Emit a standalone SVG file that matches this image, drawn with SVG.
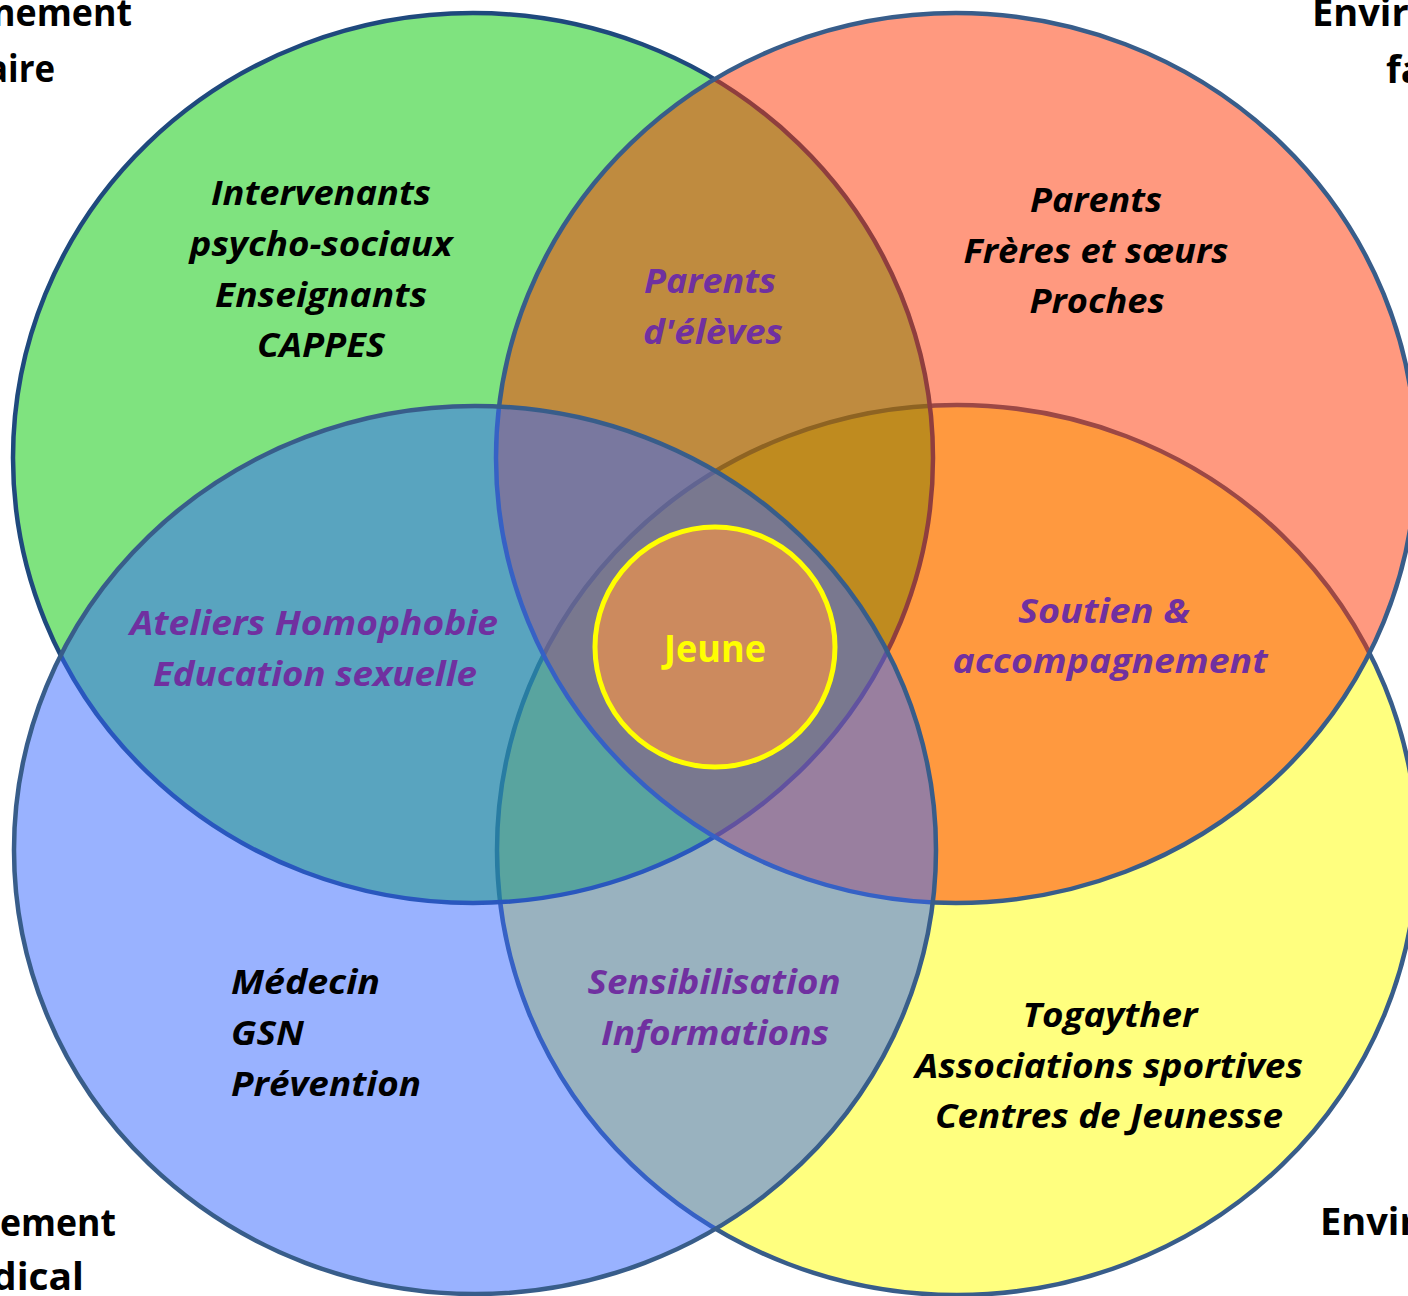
<svg xmlns="http://www.w3.org/2000/svg" width="1408" height="1296" viewBox="0 0 1408 1296">
<style>
.c { stroke-width: 4.5; fill-opacity: 0.5; }
.t { font-family: "Open Sans", "Liberation Sans", sans-serif; font-weight: 700; font-style: italic; font-size: 34px; text-anchor: middle; }
.l { text-anchor: start; }
.blk { fill: #000000; }
.pur { fill: #7030A0; }
.corner { font-family: "Open Sans", "Liberation Sans", sans-serif; font-weight: 700; font-size: 38px; fill: #000000; }
.jeune { font-family: "Open Sans", "Liberation Sans", sans-serif; font-weight: 700; font-size: 37px; fill: #FFFF00; text-anchor: middle; }
</style>
<rect x="0" y="0" width="1408" height="1296" fill="#FFFFFF"/>

<g id="env-yellow">
  <ellipse class="c" cx="957" cy="850" rx="460" ry="445" fill="#FFFF00" stroke="#385D8A"/>
  <text class="t blk" x="1110" y="1027" textLength="175" lengthAdjust="spacingAndGlyphs">Togayther</text>
  <text class="t blk" x="1109" y="1078" textLength="388" lengthAdjust="spacingAndGlyphs">Associations sportives</text>
  <text class="t blk" x="1109" y="1128" textLength="348" lengthAdjust="spacingAndGlyphs">Centres de Jeunesse</text>
</g>

<g id="env-green">
  <ellipse class="c" cx="473" cy="458" rx="460" ry="445" fill="#00C800" stroke="#1F497D"/>
  <text class="t blk" x="321" y="205" textLength="220" lengthAdjust="spacingAndGlyphs">Intervenants</text>
  <text class="t blk" x="321" y="256" textLength="263" lengthAdjust="spacingAndGlyphs">psycho-sociaux</text>
  <text class="t blk" x="321" y="307" textLength="212" lengthAdjust="spacingAndGlyphs">Enseignants</text>
  <text class="t blk" x="321" y="357" textLength="128" lengthAdjust="spacingAndGlyphs">CAPPES</text>
</g>

<g id="env-red">
  <ellipse class="c" cx="956" cy="458" rx="460" ry="445" fill="#FF3300" stroke="#385D8A"/>
  <text class="t blk" x="1096" y="212" textLength="132" lengthAdjust="spacingAndGlyphs">Parents</text>
  <text class="t blk" x="1096" y="263" textLength="265" lengthAdjust="spacingAndGlyphs">Frères et sœurs</text>
  <text class="t blk" x="1097" y="313" textLength="135" lengthAdjust="spacingAndGlyphs">Proches</text>
</g>

<g id="env-blue">
  <ellipse class="c" cx="475" cy="850" rx="461" ry="444" fill="#3366FF" stroke="#385D8A"/>
  <text class="t blk l" x="231" y="994" textLength="149" lengthAdjust="spacingAndGlyphs">Médecin</text>
  <text class="t blk l" x="231" y="1045" textLength="73" lengthAdjust="spacingAndGlyphs">GSN</text>
  <text class="t blk l" x="231" y="1096" textLength="190" lengthAdjust="spacingAndGlyphs">Prévention</text>
</g>

<g id="overlap-green-red">
  <text class="t pur" x="710" y="293" textLength="132" lengthAdjust="spacingAndGlyphs">Parents</text>
  <text class="t pur" x="713" y="344" textLength="140" lengthAdjust="spacingAndGlyphs">d'élèves</text>
</g>

<g id="overlap-green-blue">
  <text class="t pur" x="314" y="635" textLength="368" lengthAdjust="spacingAndGlyphs">Ateliers Homophobie</text>
  <text class="t pur" x="315" y="686" textLength="324" lengthAdjust="spacingAndGlyphs">Education sexuelle</text>
</g>

<g id="overlap-red-yellow">
  <text class="t pur" x="1104" y="623" textLength="172" lengthAdjust="spacingAndGlyphs">Soutien &amp;</text>
  <text class="t pur" x="1110" y="673" textLength="315" lengthAdjust="spacingAndGlyphs">accompagnement</text>
</g>

<g id="overlap-blue-yellow">
  <text class="t pur" x="714" y="994" textLength="253" lengthAdjust="spacingAndGlyphs">Sensibilisation</text>
  <text class="t pur" x="715" y="1045" textLength="228" lengthAdjust="spacingAndGlyphs">Informations</text>
</g>

<g id="jeune">
  <circle cx="715" cy="647" r="120" fill="#CC8A5E" stroke="#FFFF00" stroke-width="5"/>
  <text class="jeune" x="715" y="662" textLength="102" lengthAdjust="spacingAndGlyphs">Jeune</text>
</g>

<g id="corner-labels">
  <text class="corner" x="132" y="26" text-anchor="end" textLength="140" lengthAdjust="spacingAndGlyphs">nement</text>
  <text class="corner" x="55" y="82" text-anchor="end" textLength="68" lengthAdjust="spacingAndGlyphs">aire</text>
  <text class="corner" x="1312" y="26">Envir</text>
  <text class="corner" x="1386" y="83">fa</text>
  <text class="corner" x="116" y="1236" text-anchor="end" textLength="116" lengthAdjust="spacingAndGlyphs">ement</text>
  <text class="corner" x="84" y="1290" text-anchor="end" textLength="92" lengthAdjust="spacingAndGlyphs">dical</text>
  <text class="corner" x="1320" y="1235">Envir</text>
</g>
</svg>
